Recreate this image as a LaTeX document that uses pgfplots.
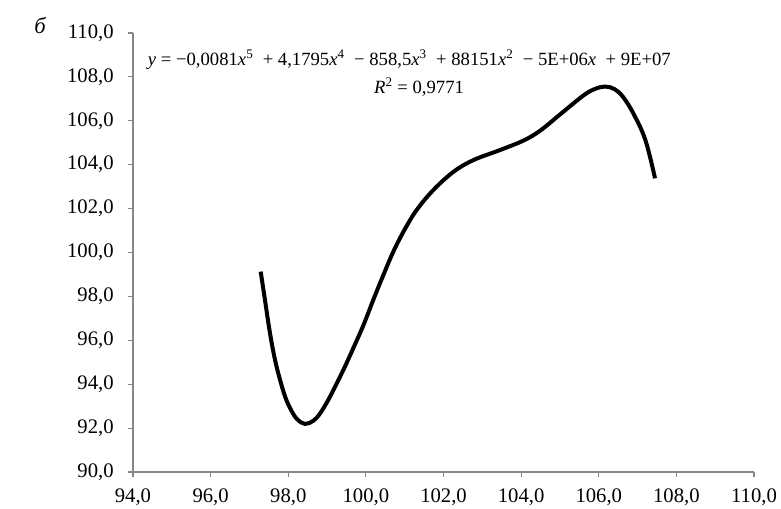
\documentclass[border=0pt]{standalone}
\usepackage{fontspec}
\setmainfont{Liberation Serif}
\usepackage{pgfplots}
\pgfplotsset{compat=1.18}
\definecolor{axgray}{HTML}{868686}
\begin{document}
\begin{tikzpicture}
\begin{axis}[
  at={(0,0)}, anchor=south west,
  scale only axis,
  width=465.75pt, height=329.25pt,
  xmin=94, xmax=110, ymin=90, ymax=110,
  xtick={94,96,...,110}, ytick={90,92,...,110},
  axis x line=bottom, axis y line=left,
  axis line style={draw=axgray, line width=0.8pt, -},
  tick style={draw=axgray, line width=0.8pt},
  tick align=outside, major tick length=4pt,
  xticklabel style={font=\fontsize{15.5}{17}\selectfont, yshift=-5pt},
  yticklabel style={font=\fontsize{15.5}{17}\selectfont, xshift=-7pt},
  /pgf/number format/.cd, fixed, fixed zerofill, precision=1, use comma, assume math mode=true,
  /pgfplots/.cd,
  clip=false,
]
\addplot[black, line width=3pt, smooth, tension=0.6] coordinates {
(97.29,99.13) (97.40,97.84) (97.53,96.32) (97.66,95.10) (97.79,94.19)
(97.92,93.43) (98.05,92.90) (98.22,92.42) (98.43,92.19) (98.65,92.34)
(98.82,92.67) (99.03,93.28) (99.25,94.04) (99.46,94.80) (99.68,95.66)
(99.94,96.70) (100.19,97.84) (100.45,98.97) (100.71,100.05)
(101.00,101.05) (101.31,101.94) (101.74,102.85) (102.26,103.68) (102.77,104.21)
(103.46,104.67) (104.06,105.10) (104.49,105.55) (105.01,106.30)
(105.61,107.16) (105.90,107.45) (106.16,107.56) (106.40,107.45) (106.62,107.10) (106.89,106.34)
(107.20,105.13) (107.45,103.38)
};
\node[font=\fontsize{14}{16}\selectfont, anchor=center] at (axis cs:101.12,108.77)
 {\textit{y} = −0,0081\textit{x}\textsuperscript{5}\ \ + 4,1795\textit{x}\textsuperscript{4}\ \ − 858,5\textit{x}\textsuperscript{3}\ \ + 88151\textit{x}\textsuperscript{2}\ \ − 5E+06\textit{x}\ \ + 9E+07};
\node[font=\fontsize{14}{16}\selectfont, anchor=center] at (axis cs:101.37,107.55)
 {\textit{R}\textsuperscript{2} = 0,9771};
\end{axis}
\node[font=\itshape\fontsize{17}{19}\selectfont] at (-69.75pt,335pt) {б};
\pgfresetboundingbox
\path[use as bounding box] (-99.75pt,-27pt) rectangle (486pt,354pt);
\end{tikzpicture}
\end{document}
